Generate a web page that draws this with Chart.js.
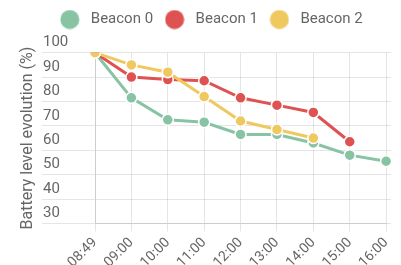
<!DOCTYPE html>
<html><head><meta charset="utf-8">
<script src="https://cdn.jsdelivr.net/npm/chart.js@4"></script>
<style>html,body{margin:0;padding:0;background:#fff}#wrap{width:401px;height:265px}</style>
</head><body><div id="wrap"><canvas id="c" width="401" height="265"></canvas></div>
<script>
const categories = ['08:49','09:00','10:00','11:00','12:00','13:00','14:00','15:00','16:00'];
const beacon0 = [100, 81.5, 72.5, 71.5, 66.5, 66.5, 63, 58, 55.5];
const beacon1 = [100, 90, 89, 88.5, 81.5, 78.5, 75.5, 63.5];
const beacon2 = [100, 95, 92, 82, 72, 68.5, 65];
const seriesNames = ['Beacon 0', 'Beacon 1', 'Beacon 2'];
const seriesColors = ['#88c4a4', '#de5252', '#f0c860'];
const yTicks = [30, 40, 50, 60, 70, 80, 90, 100];
const yTitle = 'Battery level evolution (%)';

Chart.defaults.font.family = 'Roboto';
Chart.defaults.color = '#666';

function makeDot(color) {
  const cv = document.createElement('canvas');
  cv.width = 20; cv.height = 20;
  const g = cv.getContext('2d');
  g.fillStyle = color;
  g.beginPath(); g.arc(10, 10, 9.5, 0, Math.PI * 2); g.fill();
  return cv;
}
const legendDots = seriesColors.map(makeDot);

const legendSpacer = {
  id: 'legendSpacer',
  beforeLayout(chart) {
    const lg = chart.legend;
    if (lg && !lg._spacerPatched) {
      const orig = lg.fit;
      lg.fit = function () { orig.call(this); this.height += 15.7; };
      lg._spacerPatched = true;
    }
  }
};

const seriesData = [beacon0, beacon1, beacon2];
const drawOrder = [2, 1, 0];

new Chart(document.getElementById('c'), {
  type: 'line',
  data: {
    labels: categories,
    datasets: seriesData.map((d, i) => ({
      label: seriesNames[i],
      data: d,
      order: drawOrder[i],
      borderColor: seriesColors[i],
      backgroundColor: seriesColors[i],
      pointBackgroundColor: seriesColors[i],
      pointBorderColor: '#fff',
      pointBorderWidth: 1.5,
      pointRadius: 5.5,
      borderWidth: 3,
      tension: 0,
      fill: false
    }))
  },
  options: {
    responsive: false,
    animation: false,
    devicePixelRatio: 1,
    layout: { padding: { left: 18, top: 4, right: 0, bottom: -9 } },
    plugins: {
      tooltip: { enabled: false },
      legend: {
        position: 'top',
        labels: {
          usePointStyle: true,
          pointStyleWidth: 27,
          padding: 8,
          color: '#666',
          font: { size: 15 },
          generateLabels(chart) {
            const items = Chart.defaults.plugins.legend.labels.generateLabels(chart);
            items.sort((a, b) => a.datasetIndex - b.datasetIndex);
            items.forEach(it => { it.pointStyle = legendDots[it.datasetIndex]; });
            return items;
          }
        }
      }
    },
    scales: {
      x: {
        offset: false,
        grid: { color: 'rgba(0,0,0,0.1)', tickLength: 8 },
        ticks: { minRotation: 45, maxRotation: 45, autoSkip: false, font: { size: 14 }, color: '#666' }
      },
      y: {
        position: 'left',
        min: yTicks[0],
        max: yTicks[yTicks.length - 1],
        grid: { color: 'rgba(0,0,0,0.1)', tickLength: 53 },
        ticks: { stepSize: yTicks[1] - yTicks[0], mirror: true, padding: -52, labelOffset: -10, font: { size: 15 }, color: '#666' },
        title: { display: true, text: yTitle, font: { size: 16 }, color: '#666', padding: { top: 0, bottom: 108.8 } }
      },
      y2: {
        position: 'right',
        min: yTicks[0],
        max: yTicks[yTicks.length - 1],
        border: { display: false },
        grid: { drawOnChartArea: false, color: 'rgba(0,0,0,0.1)', tickLength: 5 },
        ticks: { display: false, stepSize: yTicks[1] - yTicks[0] }
      }
    }
  },
  plugins: [legendSpacer]
});
</script>
</body></html>
